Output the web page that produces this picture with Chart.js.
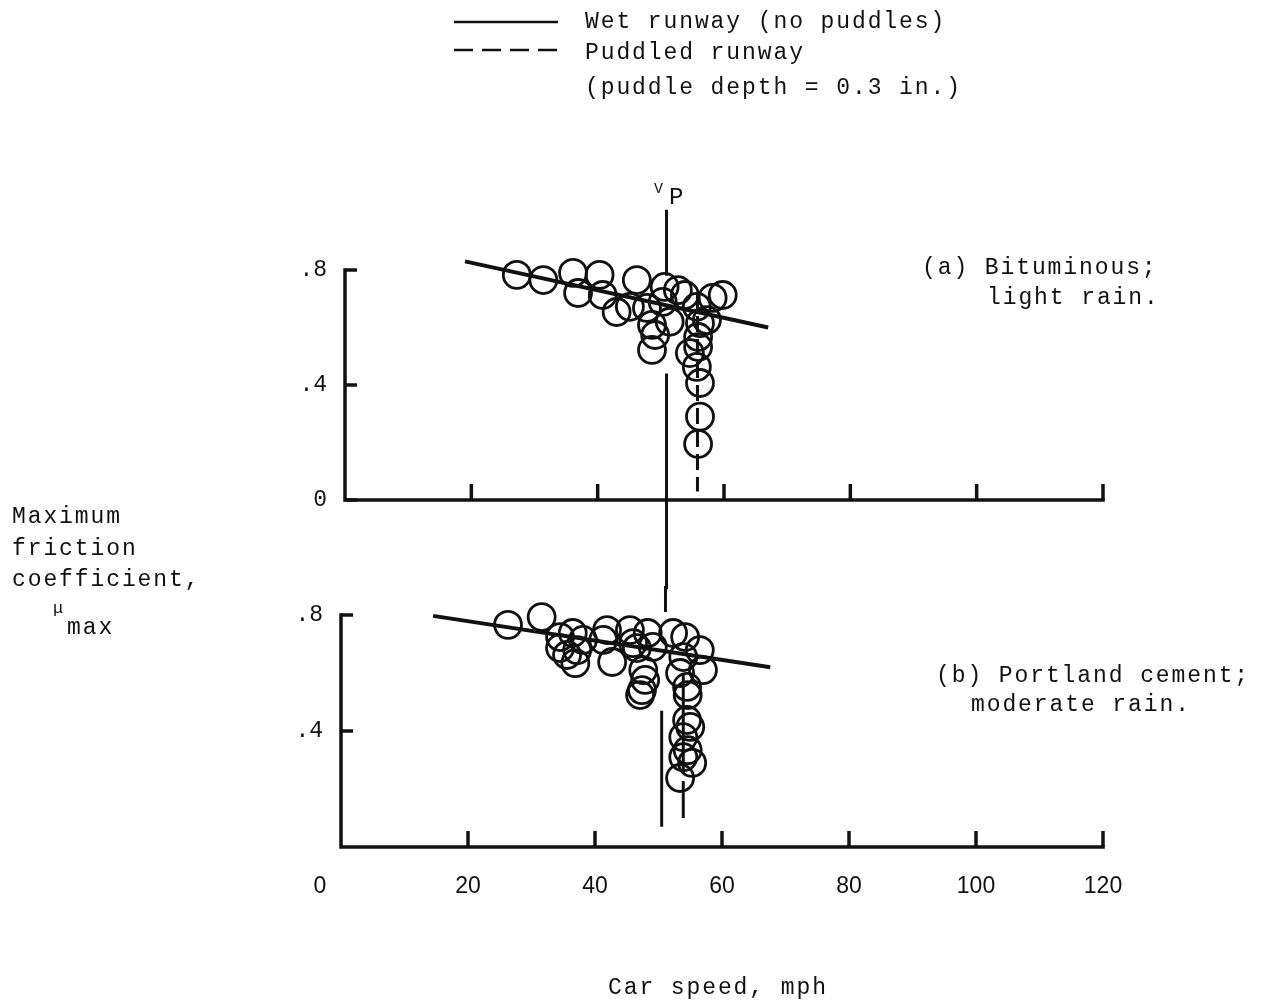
<!DOCTYPE html>
<html>
<head>
<meta charset="utf-8">
<script src="https://cdn.jsdelivr.net/npm/chart.js@4.4.1/dist/chart.umd.min.js"></script>
<style>
  html, body { margin: 0; padding: 0; background: #fff; }
  #page { position: relative; width: 1262px; height: 1005px; overflow: hidden; font-family: 'Liberation Mono', monospace; color: #111; }
  canvas { position: absolute; left: 0; }
  .t { position: absolute; font-size: 23px; line-height: 24px; letter-spacing: 1.9px; white-space: pre; }
</style>
</head>
<body>
<div id="page">
  <canvas id="chartA" width="1262" height="620" style="top:0"></canvas>
  <canvas id="chartB" width="1262" height="445" style="top:560px"></canvas>

  <div class="t" style="left:585px; top:10px">Wet runway (no puddles)</div>
  <div class="t" style="left:585px; top:41px">Puddled runway</div>
  <div class="t" style="left:585px; top:76px">(puddle depth = 0.3 in.)</div>

  <div class="t" style="left:654px; top:178px; font-size:15px">V</div>
  <div class="t" style="left:669px; top:186px; font-size:24px">P</div>

  <div class="t" style="left:922px; top:256px">(a) Bituminous;</div>
  <div class="t" style="left:987px; top:286px">light rain.</div>
  <div class="t" style="left:936px; top:664px">(b) Portland cement;</div>
  <div class="t" style="left:971px; top:693px">moderate rain.</div>

  <div class="t" style="left:12px; top:505px">Maximum</div>
  <div class="t" style="left:12px; top:537px">friction</div>
  <div class="t" style="left:12px; top:568px">coefficient,</div>
  <div class="t" style="left:53px; top:597px; font-size:17px">μ</div>
  <div class="t" style="left:67px; top:616px">max</div>

  <div class="t" style="left:608px; top:976px">Car speed, mph</div>
</div>
<script>
const ink = '#111'

// axes
const speedTicks = [0, 20, 40, 60, 80, 100, 120]
const speedLabels = ['0', '20', '40', '60', '80', '100', '120']
const muTicksA = [0, 0.4, 0.8]
const muLabelsA = ['0', '.4', '.8']
const muTicksB = [0.4, 0.8]
const muLabelsB = ['.4', '.8']

// (a) bituminous, light rain
const bitSpeed = [27.2, 31.4, 36.1, 40.3, 36.9, 40.8, 43.0, 46.2, 45.1, 47.8, 48.6, 49.1, 48.6, 50.6, 51.4,
  52.7, 50.3, 53.8, 55.7, 56.2, 55.9, 54.6, 55.9, 55.7, 56.2, 56.2, 55.9, 58.2, 59.8, 57.3]
const bitMu = [0.783, 0.765, 0.79, 0.783, 0.72, 0.713, 0.654, 0.765, 0.672, 0.668, 0.609, 0.574, 0.522, 0.741, 0.62,
  0.73, 0.689, 0.713, 0.672, 0.615, 0.567, 0.511, 0.532, 0.463, 0.407, 0.29, 0.195, 0.703, 0.713, 0.626]
const bitWetSpeed = [19, 67]
const bitWetMu = [0.83, 0.6]

// (b) portland cement, moderate rain
const pcSpeed = [26.3, 31.6, 34.5, 36.5, 34.5, 35.6, 36.9, 38.1, 37.2, 41.9, 41.3, 42.7, 45.5, 46.0, 48.3, 46.6, 47.6, 47.9,
  47.4, 47.1, 49.1, 52.3, 54.2, 56.5, 57.0, 53.9, 53.4, 54.5, 54.6, 54.5, 55.0, 53.9, 54.6, 55.3, 53.9, 53.4]
const pcMu = [0.766, 0.793, 0.724, 0.738, 0.686, 0.662, 0.634, 0.714, 0.679, 0.748, 0.714, 0.638, 0.748, 0.703, 0.738, 0.686, 0.61, 0.576,
  0.541, 0.524, 0.69, 0.738, 0.724, 0.679, 0.61, 0.655, 0.6, 0.552, 0.524, 0.438, 0.414, 0.379, 0.334, 0.29, 0.31, 0.238]
const pcWetSpeed = [14.5, 67.6]
const pcWetMu = [0.797, 0.62]

// V_P line (upper and lower pieces) and puddled-runway line
const vpSpeedA = 50.9
const vpMuA = [[1.01, 0.78], [0.44, -0.31]]
const vpSpeedB = [51.1, 50.5]
const vpMuB = [[0.9, 0.81], [0.47, 0.07]]
const puddleSpeedA = 55.8
const puddleMuA = [0.72, 0.03]
const puddleSpeedB = 53.9
const puddleMuB = [0.6, 0.1]

const pts = (xs, ys) => xs.map((v, i) => ({ x: v, y: ys[i] }))
const vline = (s, ys) => ys.map(v => ({ x: s, y: v }))

const lineSet = (data, extra) => Object.assign({
  data, showLine: true, pointRadius: 0, borderColor: ink, borderWidth: 3.5, clip: false
}, extra)

const circles = data => ({
  data, showLine: false, pointRadius: 13.5, pointHoverRadius: 13.5, pointBorderWidth: 2.8,
  pointBorderColor: ink, pointBackgroundColor: 'rgba(0,0,0,0)', clip: false
})

const frame = {
  id: 'frame',
  afterDatasetsDraw(chart, args, opts) {
    const { ctx } = chart
    const x = chart.scales.x
    const y = chart.scales.y
    const x0 = x.getPixelForValue(0)
    const y0 = y.getPixelForValue(0)
    ctx.save()
    ctx.strokeStyle = ink
    ctx.fillStyle = ink
    ctx.lineWidth = 3.5
    ctx.lineCap = 'square'
    ctx.beginPath()
    ctx.moveTo(x0, y.getPixelForValue(0.8))
    ctx.lineTo(x0, y0)
    ctx.lineTo(x.getPixelForValue(120), y0)
    ctx.stroke()
    ctx.lineCap = 'butt'
    opts.yTicks.forEach(v => {
      const py = y.getPixelForValue(v)
      ctx.beginPath()
      ctx.moveTo(x0, py)
      ctx.lineTo(x0 + 12, py)
      ctx.stroke()
    })
    speedTicks.slice(1).forEach(v => {
      const px = x.getPixelForValue(v)
      ctx.beginPath()
      ctx.moveTo(px, y0)
      ctx.lineTo(px, y0 - 16)
      ctx.stroke()
    })
    ctx.font = '23px "Liberation Mono"'
    ctx.textAlign = 'right'
    ctx.textBaseline = 'middle'
    opts.yTicks.forEach((v, i) => {
      ctx.fillText(opts.yLabels[i], x0 - 18, y.getPixelForValue(v))
    })
    if (opts.xLabels) {
      ctx.font = '23px "Liberation Sans"'
      ctx.textAlign = 'center'
      speedTicks.forEach((v, i) => {
        const px = x.getPixelForValue(v) + (v === 0 ? -21 : 0)
        ctx.fillText(speedLabels[i], px, y0 + 40)
      })
    }
    if (opts.legend) {
      ctx.lineWidth = 2.5
      ctx.beginPath()
      ctx.moveTo(454, 22)
      ctx.lineTo(558, 22)
      ctx.stroke()
      ctx.setLineDash([19, 9])
      ctx.beginPath()
      ctx.moveTo(454, 50)
      ctx.lineTo(558, 50)
      ctx.stroke()
    }
    ctx.restore()
  }
}

const baseOptions = (padding, frameOpts) => ({
  responsive: false,
  animation: false,
  events: [],
  layout: { padding },
  scales: {
    x: { type: 'linear', display: false, min: 0, max: 120 },
    y: { type: 'linear', display: false, min: 0, max: 0.8 }
  },
  plugins: { legend: { display: false }, tooltip: { enabled: false }, frame: frameOpts }
})

new Chart(document.getElementById('chartA'), {
  type: 'scatter',
  data: {
    datasets: [
      lineSet(pts(bitWetSpeed, bitWetMu), { borderWidth: 4 }),
      lineSet(vline(vpSpeedA, vpMuA[0]), { borderWidth: 3 }),
      lineSet(vline(vpSpeedA, vpMuA[1]), { borderWidth: 3 }),
      lineSet(vline(puddleSpeedA, puddleMuA), { borderWidth: 3, borderDash: [16, 7] }),
      circles(pts(bitSpeed, bitMu))
    ]
  },
  options: baseOptions({ left: 345, right: 159, top: 270, bottom: 120 },
    { yTicks: muTicksA, yLabels: muLabelsA, xLabels: false, legend: true }),
  plugins: [frame]
})

new Chart(document.getElementById('chartB'), {
  type: 'scatter',
  data: {
    datasets: [
      lineSet(pts(pcWetSpeed, pcWetMu), { borderWidth: 4 }),
      lineSet(vline(vpSpeedB[0], vpMuB[0]), { borderWidth: 3 }),
      lineSet(vline(vpSpeedB[1], vpMuB[1]), { borderWidth: 3 }),
      lineSet(vline(puddleSpeedB, puddleMuB), { borderWidth: 3, borderDash: [100, 8] }),
      circles(pts(pcSpeed, pcMu))
    ]
  },
  options: baseOptions({ left: 341, right: 159, top: 55, bottom: 158 },
    { yTicks: muTicksB, yLabels: muLabelsB, xLabels: true, legend: false }),
  plugins: [frame]
})
</script>
</body>
</html>
